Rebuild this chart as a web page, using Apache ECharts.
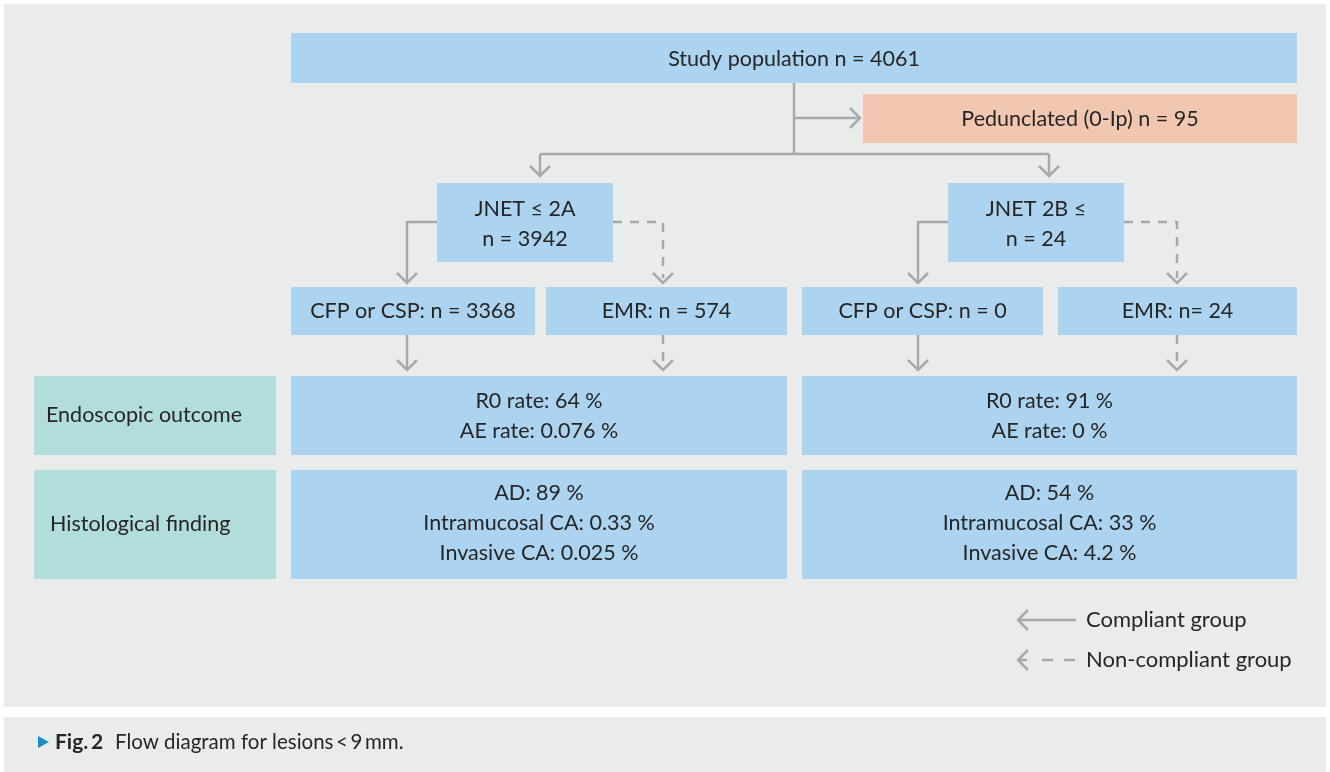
<!DOCTYPE html>
<html>
<head>
<meta charset="utf-8">
<script src="https://cdn.jsdelivr.net/npm/echarts@6/dist/echarts.min.js"></script>
<style>
  html, body { margin: 0; padding: 0; background: #fff; }
  #main { width: 1330px; height: 772px; }
</style>
</head>
<body>
<div id="main"></div>
<script>
// values
var studyN = 4061;
var pedunclatedN = 95;
var jnetLabels = ['JNET ≤ 2A', 'JNET 2B ≤'];
var jnetN = [3942, 24];
var treatLabels = ['CFP or CSP: n = ', 'EMR: n = ', 'CFP or CSP: n = ', 'EMR: n= '];
var treatN = [3368, 574, 0, 24];
var rowLabels = ['Endoscopic outcome', 'Histological finding'];
var r0Rate = ['64', '91'];
var aeRate = ['0.076', '0'];
var adRate = ['89', '54'];
var intramucosalRate = ['0.33', '33'];
var invasiveRate = ['0.025', '4.2'];
var legendLabels = ['Compliant group', 'Non-compliant group'];
var captionText = 'Flow diagram for lesions\u2009<\u20099\u2009mm.';

var chart = echarts.init(document.getElementById('main'));

var FONT = 'Lato, "Noto Sans", sans-serif';
var BLUE = '#acd3ef';
var TEAL = '#b1dddb';
var SALMON = '#f2c7b1';
var GREY = '#a7a9ac';
var INK = '#262626';

var els = [];

function box(x, y, w, h, fill) {
	els.push({ type: 'rect', shape: { x: x, y: y, width: w, height: h }, style: { fill: fill } });
}
function label(x, y, text, align, size, weight) {
	els.push({
		type: 'text',
		x: x, y: y,
		style: {
			text: text,
			textAlign: align || 'center',
			textVerticalAlign: 'middle',
			font: (weight || 'normal') + ' ' + (size || 21.5) + 'px ' + FONT,
			lineHeight: 30,
			fill: INK
		}
	});
}
function line(points, dashed) {
	els.push({
		type: 'polyline',
		shape: { points: points },
		style: { stroke: GREY, lineWidth: 2.5, fill: null, lineDash: dashed ? [9, 8] : null }
	});
}
// open chevron head, dir: 'down' | 'right' | 'left'
function head(x, y, dir) {
	var p;
	if (dir === 'down') p = [[x - 10, y - 10], [x, y], [x + 10, y - 10]];
	else if (dir === 'right') p = [[x - 10, y - 10], [x, y], [x - 10, y + 10]];
	else p = [[x + 10, y - 10], [x, y], [x + 10, y + 10]];
	line(p, false);
}

// panels
box(4, 4, 1322, 703, '#eaeceb');
box(4, 717, 1322, 55, '#eaeceb');

// top boxes
box(291, 33, 1006, 50, BLUE);
label(794, 59, 'Study population n = ' + studyN);
box(863, 94, 434, 49, SALMON);
label(1080, 119, 'Pedunclated (0-Ip) n = ' + pedunclatedN);

// trunk and branches
line([[794, 83], [794, 154]]);
line([[794, 118], [860, 118]]);
head(860, 118, 'right');
line([[540, 154], [1049, 154]]);
line([[540, 154], [540, 176]]);
line([[1049, 154], [1049, 176]]);
head(540, 176, 'down');
head(1049, 176, 'down');

// JNET boxes
var jnetX = [437, 948];
jnetLabels.forEach(function (t, i) {
	box(jnetX[i], 183, 176, 79, BLUE);
	label(jnetX[i] + 88, 224, t + '\nn = ' + jnetN[i]);
	var lx = jnetX[i] - 30, rx = jnetX[i] + 176 + (i === 0 ? 50 : 53);
	line([[jnetX[i], 222], [lx, 222], [lx, 282]]);
	head(lx, 283, 'down');
	line([[jnetX[i] + 176, 222], [rx, 222], [rx, 278]], true);
	head(rx, 283, 'down');
});

// treatment boxes
var treatX = [291, 546, 802, 1058];
var treatW = [244, 241, 241, 239];
var arrowX = [407, 663, 918, 1177];
treatLabels.forEach(function (t, i) {
	box(treatX[i], 287, treatW[i], 48, BLUE);
	label(treatX[i] + treatW[i] / 2, 311, t + treatN[i]);
	var dashed = i % 2 === 1;
	line([[arrowX[i], 335], [arrowX[i], dashed ? 364 : 369]], dashed);
	head(arrowX[i], 370, 'down');
});

// outcome rows
box(34, 376, 242, 79, TEAL);
label(46, 415, rowLabels[0], 'left');
box(34, 470, 242, 109, TEAL);
label(50, 524, rowLabels[1], 'left');

var resX = [291, 802];
var resW = [496, 495];
[0, 1].forEach(function (i) {
	box(resX[i], 376, resW[i], 79, BLUE);
	label(resX[i] + resW[i] / 2, 416, 'R0 rate: ' + r0Rate[i] + ' %\nAE rate: ' + aeRate[i] + ' %');
	box(resX[i], 470, resW[i], 109, BLUE);
	label(resX[i] + resW[i] / 2, 523,
		'AD: ' + adRate[i] + ' %\nIntramucosal CA: ' + intramucosalRate[i] + ' %\nInvasive CA: ' + invasiveRate[i] + ' %');
});

// legend
line([[1018, 620], [1076, 620]]);
head(1018, 620, 'left');
label(1086, 620, legendLabels[0], 'left', 22);
line([[1018, 660], [1027, 660]]);
line([[1042, 660], [1053, 660]]);
line([[1064, 660], [1075, 660]]);
head(1018, 660, 'left');
label(1086, 660, legendLabels[1], 'left', 22);

// caption
els.push({ type: 'polygon', shape: { points: [[38, 736], [49, 742], [38, 748]] }, style: { fill: '#1b8bcb' } });
label(55, 742, 'Fig.\u20092', 'left', 21, 'bold');
label(115, 742, captionText, 'left', 20.5);

chart.setOption({
	animation: false,
	graphic: { elements: els }
});
</script>
</body>
</html>
